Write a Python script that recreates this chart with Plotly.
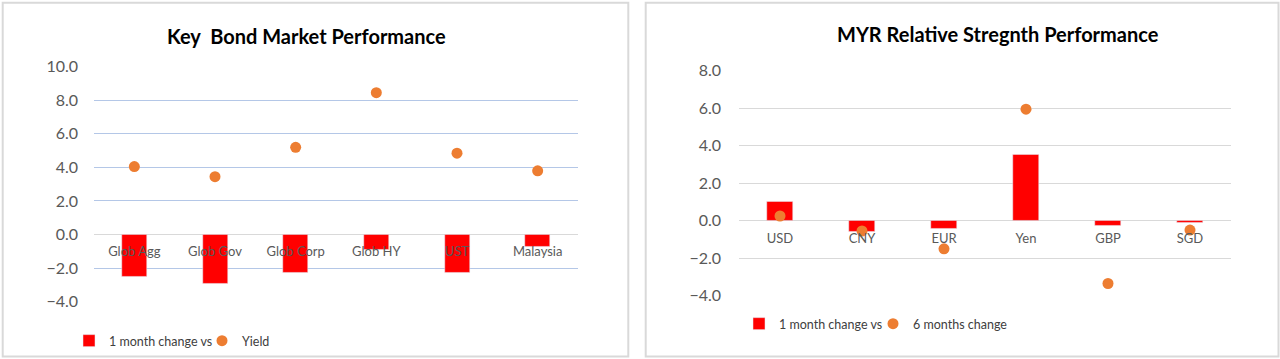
import plotly.graph_objects as go

W, H = 1280, 359

# ---- data: left chart ----
bond_categories = ["Glob Agg", "Glob Gov", "Glob Corp", "Glob HY", "UST", "Malaysia"]
bond_1m_change = [-2.5, -2.9, -2.3, -0.9, -2.3, -0.7]
bond_yield = [4.05, 3.45, 5.2, 8.45, 4.85, 3.8]
bond_yrange = [-4, 10]

# ---- data: right chart ----
fx_categories = ["USD", "CNY", "EUR", "Yen", "GBP", "SGD"]
fx_1m_change = [1.0, -0.6, -0.4, 3.5, -0.25, -0.1]
fx_6m_change = [0.25, -0.55, -1.5, 5.95, -3.35, -0.5]
fx_yrange = [-4, 8]

FONT = "Lato"
RED = "#FF0000"
ORANGE = "#ED7D31"

def px_x(p):
    return p / W

def px_y(p):
    return 1 - p / H

fig = go.Figure()

fig.add_trace(go.Bar(x=bond_categories, y=bond_1m_change, name="1 month change vs",
                     marker_color=RED, width=0.31, xaxis="x", yaxis="y",
                     legend="legend", legendwidth=88))
fig.add_trace(go.Scatter(x=bond_categories, y=bond_yield, name="Yield", mode="markers",
                         marker=dict(color=ORANGE, size=11),
                         xaxis="x", yaxis="y", legend="legend", legendwidth=120))
fig.add_trace(go.Bar(x=fx_categories, y=fx_1m_change, name="1 month change vs",
                     marker_color=RED, width=0.31, xaxis="x2", yaxis="y2",
                     legend="legend2", legendwidth=89))
fig.add_trace(go.Scatter(x=fx_categories, y=fx_6m_change, name="6 months change", mode="markers",
                         marker=dict(color=ORANGE, size=11),
                         xaxis="x2", yaxis="y2", legend="legend2", legendwidth=160))

L_x = [px_x(94), px_x(578)]
L_y = [px_y(301.7), px_y(66.7)]
R_x = [px_x(739), px_x(1231)]
R_y = [px_y(295.7), px_y(70.7)]

def zero_pos(dom, rng):
    return dom[0] + (0 - rng[0]) / (rng[1] - rng[0]) * (dom[1] - dom[0])

tickfont = dict(family=FONT, size=16, color="#595959")
catfont = dict(family=FONT, size=13, color="#595959")
legfont = dict(family=FONT, size=12.5, color="#404040")

fig.update_layout(
    width=W, height=H, autosize=False,
    margin=dict(l=0, r=0, t=0, b=0, pad=0, autoexpand=False),
    paper_bgcolor="white", plot_bgcolor="white",
    bargap=0,
    xaxis=dict(domain=L_x, anchor="free", position=zero_pos(L_y, bond_yrange),
               showgrid=False, showline=False, ticks="", tickfont=catfont,
               ticklabelstandoff=7, automargin=False),
    yaxis=dict(domain=L_y, anchor="x", range=bond_yrange, dtick=2, tickformat=".1f",
               showgrid=True, gridcolor="#B4C7E7", gridwidth=1,
               zeroline=True, zerolinecolor="#D9D9D9", zerolinewidth=1,
               showline=False, ticks="", tickfont=tickfont, ticklabelstandoff=15,
               automargin=False),
    xaxis2=dict(domain=R_x, anchor="free", position=zero_pos(R_y, fx_yrange),
                showgrid=False, showline=False, ticks="", tickfont=catfont,
                ticklabelstandoff=8, automargin=False),
    yaxis2=dict(domain=R_y, anchor="x2", range=fx_yrange, dtick=2, tickformat=".1f",
                showgrid=True, gridcolor="#D9D9D9", gridwidth=1,
                zeroline=True, zerolinecolor="#D9D9D9", zerolinewidth=1,
                showline=False, ticks="", tickfont=tickfont, ticklabelstandoff=17,
                automargin=False),
    legend=dict(orientation="h", x=px_x(69), y=px_y(341), xanchor="left", yanchor="middle",
                font=legfont, bgcolor="rgba(0,0,0,0)", traceorder="normal"),
    legend2=dict(orientation="h", x=px_x(739), y=px_y(324), xanchor="left", yanchor="middle",
                 font=legfont, bgcolor="rgba(0,0,0,0)", traceorder="normal"),
    showlegend=True,
    annotations=[
        dict(text="<b>Key  Bond Market Performance</b>", x=px_x(306), y=px_y(35.5),
             xref="paper", yref="paper", showarrow=False, xanchor="center", yanchor="middle",
             font=dict(family=FONT, size=20, color="#000000")),
        dict(text="<b>MYR Relative Stregnth Performance</b>", x=px_x(997.5), y=px_y(33.5),
             xref="paper", yref="paper", showarrow=False, xanchor="center", yanchor="middle",
             font=dict(family=FONT, size=20, color="#000000")),
    ],
    shapes=[
        dict(type="rect", xref="paper", yref="paper", x0=px_x(2.7), x1=px_x(628.3),
             y0=px_y(356.5), y1=px_y(2.7), line=dict(color="#D9D9D9", width=2)),
        dict(type="rect", xref="paper", yref="paper", x0=px_x(645.7), x1=px_x(1278.5),
             y0=px_y(356.5), y1=px_y(2.7), line=dict(color="#D9D9D9", width=2)),
    ],
)

fig.write_html("out.html", config={"responsive": False, "displayModeBar": False},
               post_script="document.body.style.margin='0';document.body.style.overflow='hidden';")
